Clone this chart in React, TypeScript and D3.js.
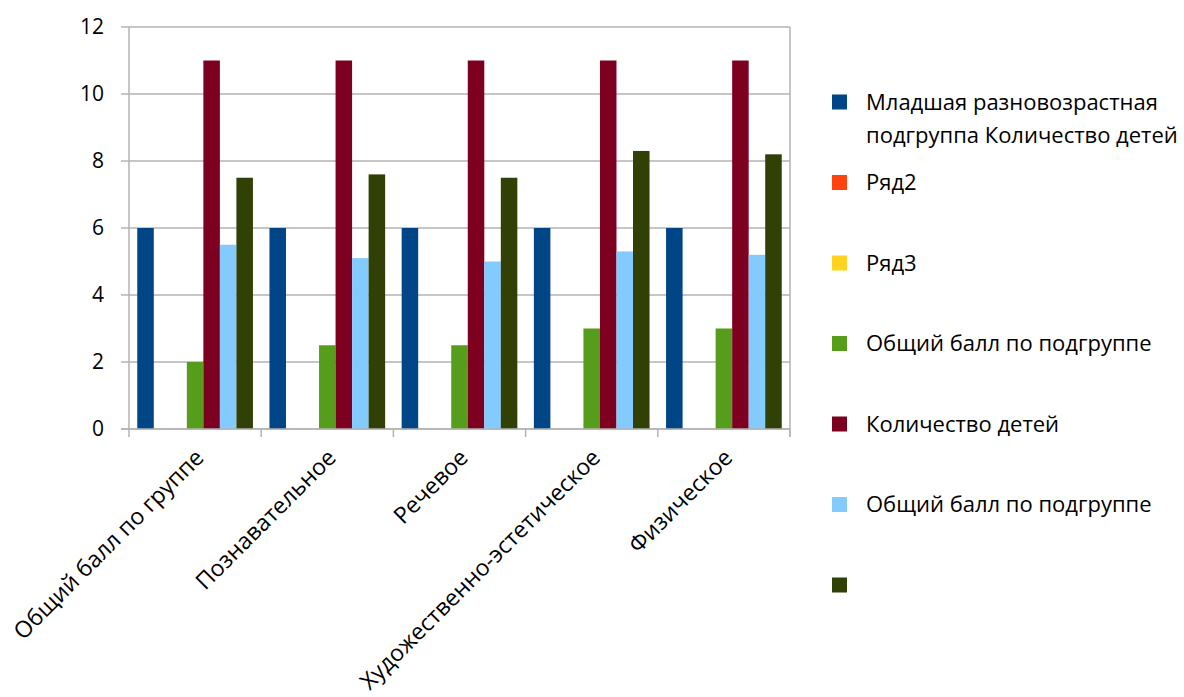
import React from 'react';
import * as d3 from 'd3';

const categories = ['Общий балл по группе', 'Познавательное', 'Речевое', 'Художественно-эстетическое', 'Физическое'];

const seriesNames = [
  'Младшая разновозрастная подгруппа Количество детей',
  'Ряд2',
  'Ряд3',
  'Общий балл по подгруппе',
  'Количество детей',
  'Общий балл по подгруппе',
  '',
];

const seriesColors = ['#004586', '#ff420e', '#ffd320', '#579d1c', '#7e0021', '#83caff', '#314004'];

const seriesValues: number[][] = [
  [6, 6, 6, 6, 6],
  [0, 0, 0, 0, 0],
  [0, 0, 0, 0, 0],
  [2, 2.5, 2.5, 3, 3],
  [11, 11, 11, 11, 11],
  [5.5, 5.1, 5.0, 5.3, 5.2],
  [7.5, 7.6, 7.5, 8.3, 8.2],
];

const yTicks = [0, 2, 4, 6, 8, 10, 12];

const legendLines: string[][] = [
  ['Младшая разновозрастная', 'подгруппа Количество детей'],
  ['Ряд2'],
  ['Ряд3'],
  ['Общий балл по подгруппе'],
  ['Количество детей'],
  ['Общий балл по подгруппе'],
  [''],
];

const W = 1184;
const H = 697;
const plot = { left: 129, right: 790, top: 27, bottom: 429 };
const FONT = '"Open Sans", "Noto Sans", sans-serif';

export default function App() {
  const x0 = d3.scaleBand<string>().domain(categories).range([plot.left, plot.right]).padding(0);
  const x1 = d3
    .scaleBand<number>()
    .domain(d3.range(seriesNames.length))
    .range([0, x0.bandwidth()])
    .paddingInner(0)
    .paddingOuter(0.5);
  const y = d3.scaleLinear().domain([0, 12]).range([plot.bottom, plot.top]);

  const boundaries = [...categories.map((c) => x0(c)!), plot.right];
  const legendY = d3.scaleLinear().domain([0, 6]).range([102, 585]);

  return (
    <svg
      width={W}
      height={H}
      style={{ position: 'absolute', left: 0, top: 0, background: '#fff' }}
      fontFamily={FONT}
    >
      {/* grid */}
      {yTicks.map((t) => (
        <line key={'g' + t} x1={plot.left - 8} x2={plot.right} y1={y(t)} y2={y(t)} stroke="#b3b3b3" strokeWidth={1.5} />
      ))}
      <line x1={plot.right} x2={plot.right} y1={plot.top} y2={plot.bottom + 8} stroke="#b3b3b3" strokeWidth={1.5} />

      {/* bars */}
      {seriesValues.map((vals, si) =>
        vals.map((v, ci) =>
          v > 0 ? (
            <rect
              key={`b${si}-${ci}`}
              x={x0(categories[ci])! + x1(si)!}
              y={y(v)}
              width={x1.bandwidth()}
              height={y(0) - y(v)}
              fill={seriesColors[si]}
            />
          ) : null
        )
      )}

      {/* axes */}
      <line x1={plot.left} x2={plot.left} y1={plot.top} y2={plot.bottom} stroke="#b3b3b3" strokeWidth={1.5} />
      <line x1={plot.left - 8} x2={plot.right} y1={plot.bottom} y2={plot.bottom} stroke="#b3b3b3" strokeWidth={1.5} />
      {boundaries.map((b, i) => (
        <line key={'xt' + i} x1={b} x2={b} y1={plot.bottom} y2={plot.bottom + 8} stroke="#b3b3b3" strokeWidth={1.5} />
      ))}

      {yTicks.map((t) => (
        <text key={'yl' + t} x={104} y={y(t)} dy="0.35em" textAnchor="end" fontSize={21} fill="#000">
          {t}
        </text>
      ))}

      {categories.map((c) => {
        const cx = x0(c)! + x0.bandwidth() / 2 + 10;
        const cy = plot.bottom + 30;
        return (
          <text
            key={'xl' + c}
            transform={`translate(${cx},${cy}) rotate(-45)`}
            textAnchor="end"
            fontSize={23}
            fill="#000"
          >
            {c}
          </text>
        );
      })}

      {/* legend */}
      {legendLines.map((lines, i) => {
        const cy = legendY(i);
        return (
          <g key={'lg' + i}>
            <rect x={832} y={cy - 7.5} width={15} height={15} fill={seriesColors[i]} />
            {lines.map((ln, li) => (
              <text key={li} x={866} y={cy + li * 33} dy="0.35em" fontSize={22} fill="#000">
                {ln}
              </text>
            ))}
          </g>
        );
      })}
    </svg>
  );
}
